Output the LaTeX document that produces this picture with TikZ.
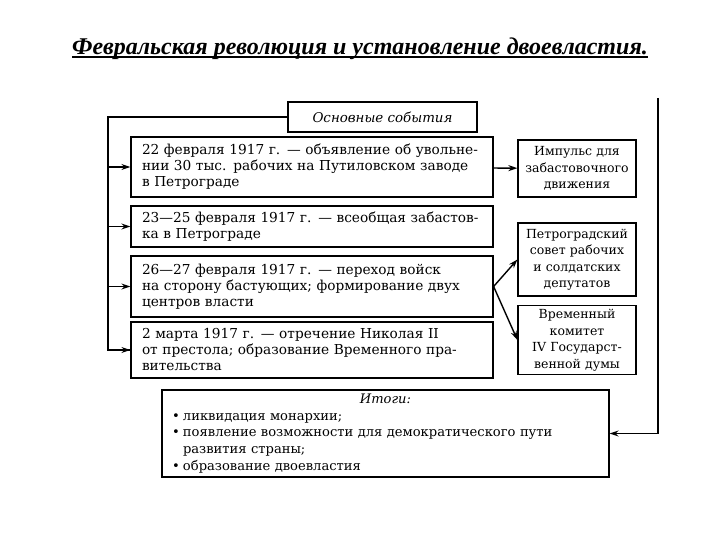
\documentclass[tikz,border=0pt]{standalone}
\usepackage{fontspec}
\setmainfont{DejaVu Serif}
\newfontfamily\titlefont{Liberation Serif}
\usepackage{tikz}
\usetikzlibrary{arrows.meta}
\newcommand\titleline[1]{\setbox0\hbox{#1}\rlap{\rule[-3.5pt]{\wd0}{2pt}}\box0}
\tikzstyle{arrow} = [line width=1.4pt,->,>={Stealth[length=9pt,width=6pt]}]
\tikzstyle{link} = [line width=1.4pt]
\tikzstyle{event} = [rectangle, draw, line width=1.2pt, text width=340pt, inner xsep=11pt, align=left, font=\fontsize{13.7}{16}\selectfont]
\tikzstyle{outcome} = [rectangle, draw, line width=1.2pt, minimum width=118pt, text width=110pt, inner xsep=4pt, align=center, font=\fontsize{12.5}{16.5}\selectfont]

\begin{document}
\begin{tikzpicture}[x=1pt, y=-1pt]
    \useasboundingbox (0,0) rectangle (720,540);

    % Title
    \node[font=\titlefont\bfseries\itshape\fontsize{24}{28}\selectfont] (title) at (360,49)
        {\titleline{Февральская революция и установление двоевластия.}};

    % Main events
    \node[rectangle, draw, line width=1.2pt, minimum width=189pt, minimum height=30pt, font=\itshape\fontsize{13.4}{15}\selectfont] (osn) at (382.5,117) {Основные события};
    \node[event, minimum height=60pt] (ev1) at (312,167)
        {22 февраля 1917 г. — объявление об увольне-\\нии 30 тыс. рабочих на Путиловском заводе\\в Петрограде};
    \node[event, minimum height=41pt] (ev2) at (312,226.5)
        {23—25 февраля 1917 г. — всеобщая забастов-\\ка в Петрограде};
    \node[event, minimum height=61pt] (ev3) at (312,286.5)
        {26—27 февраля 1917 г. — переход войск\\на сторону бастующих; формирование двух\\центров власти};
    \node[event, minimum height=56pt] (ev4) at (312,350)
        {2 марта 1917 г. — отречение Николая II\\от престола; образование Временного пра-\\вительства};

    % Consequences
    \node[outcome, minimum height=57pt] (imp) at (577,168.5) {Импульс для\\забастовочного\\движения};
    \node[outcome, minimum height=73pt] (sov) at (577,259.5) {Петроградский\\совет рабочих\\и солдатских\\депутатов};
    \node[outcome, minimum height=68pt] (kom) at (577,340) {Временный\\комитет\\IV Государст-\\венной думы};

    % Results
    \node[rectangle, draw, line width=1.2pt, minimum width=447pt, minimum height=87pt, text width=427pt, inner xsep=10pt, align=left, font=\fontsize{13.1}{16.7}\selectfont] (res) at (385.5,433.5)
        {\makebox[\linewidth]{\textit{Итоги:}}\\
         \makebox[11pt][l]{•}ликвидация монархии;\\
         \makebox[11pt][l]{•}появление возможности для демократического пути\\
         \hspace*{11pt}развития страны;\\
         \makebox[11pt][l]{•}образование двоевластия};

    % Connectors
    \coordinate (ltop) at (108,117);
    \coordinate (rtop) at (658,98);
    \draw[link] (osn.west) -- (ltop) |- (ev4.west);
    \draw[arrow] (ltop |- ev1.west) -- (ev1.west);
    \draw[arrow] (ltop |- ev2.west) -- (ev2.west);
    \draw[arrow] (ltop |- ev3.west) -- (ev3.west);
    \draw[arrow] (ltop |- ev4.west) -- (ev4.west);
    \draw[arrow] (ev1) -- (imp);
    \draw[arrow] (ev3.east) -- (sov.west);
    \draw[arrow] (ev3.east) -- (kom.west);
    \draw[arrow] (rtop) |- (res.east);
\end{tikzpicture}
\end{document}
